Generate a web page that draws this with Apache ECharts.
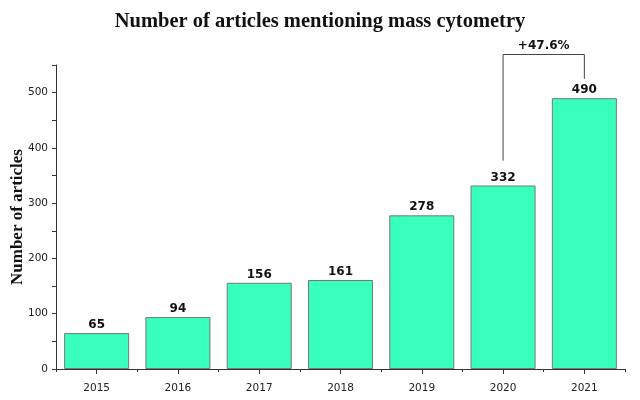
<!DOCTYPE html>
<html><head><meta charset="utf-8">
<script src="https://cdn.jsdelivr.net/npm/echarts@6/dist/echarts.min.js"></script>
<style>html,body{margin:0;padding:0;background:#fff}#c{width:640px;height:400px}</style>
</head><body><div id="c"></div>
<script>
const years = ['2015','2016','2017','2018','2019','2020','2021'];
const counts = [65, 94, 156, 161, 278, 332, 490];
const bracketPoints = [['2020', 377], ['2020', 569], ['2021', 569], ['2021', 525]];
const bracketLabel = '+47.6%';
const bracketLabelPoint = [5.5, 569];

const chart = echarts.init(document.getElementById('c'));
chart.setOption({
  animation: false,
  backgroundColor: '#fff',
  title: {
    text: 'Number of articles mentioning mass cytometry',
    left: 'center', top: 6,
    textStyle: {fontFamily: 'Liberation Serif', fontWeight: 'bold', fontSize: 20.5, color: '#111'}
  },
  grid: {left: 56, right: 15, top: 65, bottom: 31, outerBoundsMode: 'none', containLabel: false},
  xAxis: [{
    type: 'category', data: years,
    axisLine: {lineStyle: {color: '#333'}},
    axisTick: {show: true, length: 3, lineStyle: {color: '#333'}},
    axisLabel: {fontFamily: 'DejaVu Sans', fontSize: 10.5, color: '#222', margin: 14}
  }, {
    type: 'category', data: years, position: 'bottom',
    axisLine: {show: false},
    axisTick: {show: true, alignWithLabel: true, length: 5, lineStyle: {color: '#333'}},
    axisLabel: {show: false}
  }, {
    type: 'value', min: -0.5, max: years.length - 0.5, show: false
  }],
  yAxis: {
    type: 'value', min: 0, max: 550, interval: 50,
    name: 'Number of articles', nameLocation: 'middle', nameGap: 30, nameMoveOverlap: false,
    nameTextStyle: {fontFamily: 'Liberation Serif', fontWeight: 'bold', fontSize: 17, color: '#111'},
    axisLine: {show: true, onZero: false, lineStyle: {color: '#333'}},
    axisTick: {show: true, length: 4, lineStyle: {color: '#333'}},
    splitLine: {show: false},
    axisLabel: {
      fontFamily: 'DejaVu Sans', fontSize: 10.5, color: '#222', margin: 8,
      formatter: v => (v % 100 === 0 ? String(v) : '')
    }
  },
  series: [{
    type: 'bar', data: counts, barCategoryGap: '20%',
    itemStyle: {color: '#38FFBE', borderColor: '#777', borderWidth: 1},
    label: {show: true, position: 'top', distance: 2,
      fontFamily: 'DejaVu Sans', fontWeight: 'bold', fontSize: 12, color: '#111'}
  }, {
    type: 'line', data: bracketPoints, symbol: 'none', clip: false,
    lineStyle: {color: '#444', width: 1}
  }, {
    type: 'scatter', xAxisIndex: 2, data: [bracketLabelPoint], clip: false,
    symbol: 'circle', symbolSize: 1, itemStyle: {color: 'rgba(0,0,0,0)', opacity: 1},
    label: {show: true, position: 'top', distance: 2, formatter: bracketLabel,
      fontFamily: 'DejaVu Sans', fontWeight: 'bold', fontSize: 12, color: '#111'}
  }]
});
</script></body></html>
